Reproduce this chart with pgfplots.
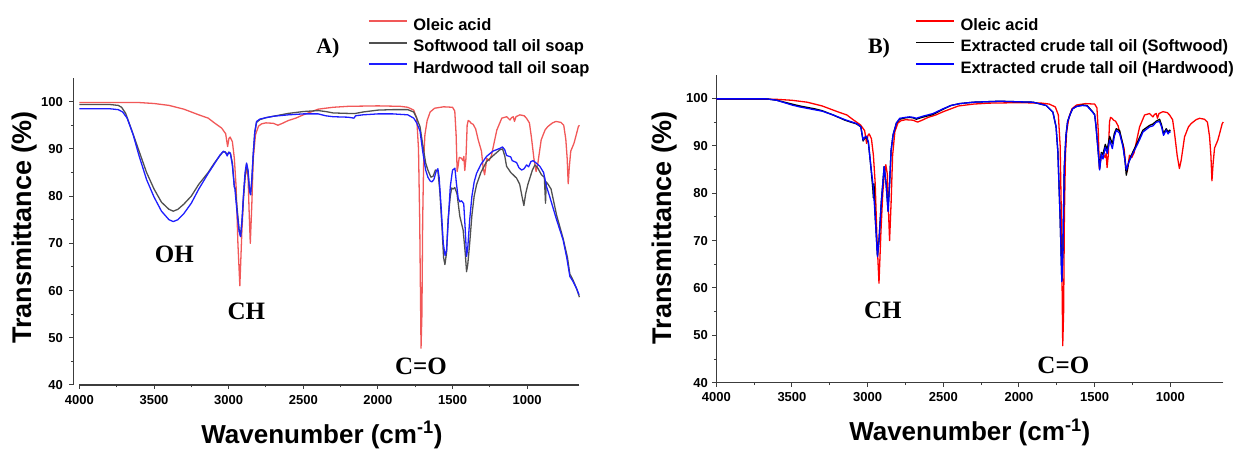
\documentclass[border=0pt]{standalone}
\usepackage{pgfplots}
\pgfplotsset{compat=1.18}
\usepackage{pgfplotstable}
\usepackage{fontspec}
\setmainfont{Liberation Sans}
\newfontfamily\timesb{Liberation Serif}

\definecolor{redA}{RGB}{240,70,70}
\definecolor{grayA}{RGB}{80,80,80}
\definecolor{blueA}{RGB}{30,30,255}
\definecolor{axgray}{RGB}{60,60,60}

\pgfplotstableread{
w T
4000 99.8
3800 99.8
3600 99.8
3500 99.6
3400 99.2
3300 98.4
3200 97.2
3137 96.5
3100 95.6
3047 94.4
3020 93.2
3007 90.5
2998 92.2
2990 92.5
2975 91.5
2962 88
2950 82
2938 70
2925 61.0
2912 72
2900 80
2890 84
2880 86
2870 84
2862 76
2855 70.0
2845 78
2835 88
2820 93
2800 94.8
2779 95.3
2750 95.5
2700 95.4
2670 95.0
2640 95.4
2600 96
2550 96.5
2500 97.2
2450 97.8
2400 98.4
2300 98.8
2200 99
2000 99.1
1850 99
1800 98.8
1760 98.2
1740 96.5
1728 90
1720 75
1711 47.8
1705 55
1700 75
1693 88
1685 93
1670 96
1650 97.8
1620 98.6
1560 98.9
1500 98.8
1485 98
1476 93
1469 85.2
1462 86.5
1455 88.2
1440 88
1430 87.5
1424 88.4
1418 85.4
1410 88
1402 95
1395 96
1385 95.8
1375 95.4
1362 95.2
1345 94.2
1328 91.9
1306 89.5
1295 86
1285 84.5
1270 88
1255 87.5
1240 88.5
1220 91.5
1203 94
1170 96.5
1137 96.8
1115 96.1
1105 96.6
1093 96.8
1085 95.8
1075 96.8
1049 97.2
1020 97
1005 96.5
985 95.5
972 92.6
955 88
940 85.2
928 87
906 91.9
880 94
862 94.7
830 95.5
807 95.8
774 95.6
755 95
741 92
732 88
725 82.6
718 86
708 89.5
686 91.2
675 92.5
657 94.7
650 95
}\oleic

\pgfplotstableread{
w T
4000 99.4
3800 99.4
3740 99.2
3717 98.8
3690 97.5
3650 94
3600 89.5
3550 85
3500 81.5
3450 78.7
3400 77.2
3371 76.8
3340 77.2
3300 78.3
3250 80
3200 82.5
3137 85
3100 86.8
3060 88.5
3040 89.3
3025 89.4
3010 88.8
2998 89.3
2988 89
2975 87
2962 82
2955 81.5
2945 78
2930 73
2920 71.5
2910 75
2900 80
2890 84
2880 86.8
2870 85
2862 82
2853 80.3
2845 83
2835 89
2825 93.5
2813 95.6
2790 96.2
2750 96.6
2700 96.9
2600 97.5
2500 97.9
2400 98.1
2350 97.9
2300 97.6
2200 97.5
2150 97.5
2100 97.8
2000 98.2
1900 98.3
1800 98.3
1760 97.8
1740 96.5
1718 94.7
1700 91
1680 87
1665 85.5
1645 84
1630 84.2
1615 85.5
1598 85.3
1585 81
1570 73
1560 67
1551 65.5
1540 68
1530 75
1515 80
1506 81.7
1495 81.5
1485 81.8
1470 80.5
1451 75.7
1429 72.8
1415 68
1406 64
1398 65.5
1385 70
1370 76
1355 80
1339 82.4
1310 85
1272 87.3
1230 88.5
1183 89.8
1165 90
1150 88.5
1138 86.3
1110 85
1071 83.8
1050 82.5
1035 80
1022 78
1010 80.5
995 82.5
982 83.8
965 85.5
948 86.6
930 86
904 84.5
885 84
877 78.5
872 83
860 82.5
840 81.5
803 76
759 71
730 67
714 63.5
700 62.7
690 62
670 60.5
650 58.6
}\softsoap

\pgfplotstableread{
w T
4000 98.5
3800 98.5
3740 98.3
3710 97.8
3680 96.5
3640 93
3600 88.5
3550 83.5
3500 79.8
3450 76.8
3400 75
3371 74.6
3340 75
3300 76.3
3250 78.5
3200 81.5
3137 84.8
3100 86.6
3060 88.6
3035 89.5
3020 89.2
3010 88.5
2998 89.3
2988 89
2975 86.5
2962 82
2958 81.5
2945 77
2930 72.5
2920 71.4
2910 75
2900 80.5
2890 85
2880 87
2870 85.5
2860 81
2853 80.3
2845 83.5
2835 89
2825 93.5
2813 95.8
2790 96.3
2750 96.6
2700 96.9
2600 97.2
2500 97.4
2400 97.4
2350 97
2300 96.8
2200 96.7
2160 96.5
2150 97.0
2100 97.2
2000 97.4
1900 97.4
1800 97.2
1760 96.5
1740 95.5
1718 93.8
1700 89.5
1680 85.5
1665 84
1650 83.2
1638 83
1625 83.5
1610 85.2
1598 85.8
1590 84
1575 77
1562 70
1550 67.4
1540 68.5
1530 74
1515 82
1500 85.5
1484 85.9
1475 83
1462 79.5
1451 78.8
1440 79
1425 78.4
1415 73
1406 67.2
1398 69
1385 75
1370 80
1355 83
1339 84.8
1310 86.7
1272 88.4
1230 89.5
1183 90.1
1165 90.4
1150 89.8
1138 88.6
1110 88.3
1100 87.5
1071 87.1
1055 86
1037 85.5
1020 85.8
1004 86.6
990 86.2
975 87.3
960 87.5
940 87
915 86.3
890 85
870 82
850 80
803 75
759 70.7
735 67
714 63
700 62.3
692 61.9
670 60.5
652 59.1
}\hardsoap

\pgfplotstableread{
w T
4000 99.9
3800 99.9
3667 99.9
3600 99.6
3550 99.1
3500 98.6
3448 98.2
3350 97.6
3300 97.3
3228 96.5
3150 95.5
3073 94.7
3045 94
3030 91.2
3020 91.8
3007 92
2995 90.8
2980 86
2964 81.7
2950 75
2935 66.6
2925 70
2910 78
2891 85.6
2878 82
2865 76.1
2855 82
2845 89
2832 92.3
2810 94.8
2788 95.8
2750 96
2722 96.1
2700 96
2678 95.8
2640 96.2
2568 96.8
2502 97.8
2450 98.5
2392 98.9
2300 99.2
2128 99.4
1908 99.2
1820 98.5
1776 97.1
1755 94
1743 88.7
1728 74.6
1717 61.3
1710 68
1701 85.2
1690 92
1679 95.1
1660 96.8
1646 97.8
1620 98.3
1580 98.5
1550 98.4
1514 97.1
1500 96.5
1492 94.3
1480 90
1467 84.9
1456 88.3
1445 87.2
1430 89.7
1417 88.4
1401 91.2
1383 89.4
1370 92
1357 93.3
1335 92.6
1313 89.8
1300 87
1291 84.9
1275 86.5
1258 87.7
1225 89.8
1200 91.5
1181 92.9
1137 94
1115 94.2
1093 95
1071 95.1
1058 94
1045 92.2
1027 93.3
1015 92.5
1005 93
1000 92.8
}\hardcto

\pgfplotstableread{
w T
4000 99.9
3800 99.9
3667 99.9
3600 99.6
3550 99.2
3500 98.8
3448 98.4
3350 97.8
3300 97.4
3228 96.5
3150 95.4
3073 94.6
3045 94
3030 91.0
3020 91.6
3007 91.8
2995 90.6
2980 86
2966 81
2962 79
2958 82
2950 75
2935 66.8
2925 70
2910 78
2891 85.6
2878 82
2865 76.3
2855 82
2845 89
2832 92.3
2810 94.8
2788 95.6
2750 95.9
2722 96.0
2700 95.9
2678 95.6
2640 96.0
2568 96.6
2502 97.7
2450 98.5
2392 98.9
2300 99.2
2128 99.4
1908 99.2
1820 98.5
1776 97.1
1755 94
1743 88.7
1728 74.6
1717 61.5
1710 68
1701 85.2
1690 92
1679 95.1
1660 96.8
1646 97.8
1620 98.3
1580 98.6
1550 98.5
1514 97.2
1500 96.6
1492 94.5
1480 90
1467 85.2
1456 88.6
1445 88.2
1430 90.3
1417 89.2
1401 92
1383 90.4
1370 92.6
1357 93.6
1335 93.2
1313 90.2
1300 87
1291 83.8
1275 86.5
1258 88
1225 90.2
1200 92
1181 93.3
1137 94.3
1115 94.6
1093 95.2
1071 95.6
1058 94.4
1045 92.6
1027 93.6
1015 92.9
1005 93.3
1000 93.1
}\softcto

\pgfplotsset{
 irstyle/.style={
  scale only axis,
  x dir=reverse,
  xmin=650, xmax=4000, ymin=40, ymax=105,
  axis x line*=bottom, axis y line*=left,
  xtick={1000,1500,...,4000}, ytick={40,50,...,100},
  minor x tick num=1, minor y tick num=1,
  tick align=outside,
  major tick length=4pt, minor tick length=2.5pt,
  axis line style={axgray, line width=1.1pt},
  tick style={axgray, line width=1pt},
  tick label style={font=\bfseries\fontsize{13}{15}\selectfont, text=black},
  xticklabel style={yshift=-2.5pt},
  /pgf/number format/assume math mode=true,
  /pgf/number format/1000 sep={},
  clip=false,
  xlabel={Wavenumber (cm\textsuperscript{-1})},
  ylabel={Transmittance (\%)},
  label style={font=\bfseries\fontsize{26}{30}\selectfont},
  ylabel style={font=\bfseries\fontsize{27}{30}\selectfont},
  legend style={draw=none, fill=none, font=\bfseries\fontsize{16.5}{18}\selectfont,
    inner sep=0pt, row sep=4pt, nodes={text height=12pt, text depth=3.5pt, inner sep=1pt},
    anchor=north west,
    /tikz/every odd column/.append style={column sep=4.5pt}},
  legend cell align=left,
  legend image code/.code={\draw[#1, line width=1.8pt] (0pt,5pt) -- (38pt,5pt);},
  every axis plot/.append style={line width=1.3pt, line join=round},
 }
}

\begin{document}
\begin{tikzpicture}
\useasboundingbox (0,0) rectangle (1237pt,449pt);
% Panel A
\begin{axis}[irstyle,
  at={(79.4pt,64pt)}, anchor=south west, width=500pt, height=307pt,
  xlabel style={at={(0.485,-0.189)}, anchor=base},
  ylabel style={at={(-0.1096,0.513)}, anchor=center},
  legend style={at={(0.577,1.198)}},
  y axis line style={xshift=-6pt},
  every y tick/.append style={xshift=-6pt},
  yticklabel style={xshift=-9pt},
]
\addplot[redA, opacity=0.9] table[x=w,y=T] {\oleic};
\addlegendentry{Oleic acid}
\addplot[grayA] table[x=w,y=T] {\softsoap};
\addlegendentry{Softwood tall oil soap}
\addplot[blueA] table[x=w,y=T] {\hardsoap};
\addlegendentry{Hardwood tall oil soap}
\node[font=\timesb\bfseries\fontsize{22}{26}\selectfont, anchor=base] at (rel axis cs:0.497,1.081) {A)};
\node[font=\timesb\bfseries\fontsize{25}{30}\selectfont] at (axis cs:3364,67.7) {OH};
\node[font=\timesb\bfseries\fontsize{25}{30}\selectfont] at (axis cs:2881,55.6) {CH};
\node[font=\timesb\bfseries\fontsize{25}{30}\selectfont] at (axis cs:1711,43.9) {C=O};
\end{axis}
% Panel B
\begin{axis}[irstyle,
  at={(716.3pt,66.3pt)}, anchor=south west, width=507pt, height=308pt,
  xlabel style={at={(0.500,-0.189)}, anchor=base},
  ylabel style={at={(-0.103,0.502)}, anchor=center},
  legend style={at={(0.392,1.187)}},
  yticklabel style={xshift=-1pt},
]
\addplot[red] table[x=w,y=T] {\oleic};
\addlegendentry{Oleic acid}
\addplot[black] table[x=w,y=T] {\softcto};
\addlegendentry{Extracted crude tall oil (Softwood)}
\addplot[blue] table[x=w,y=T] {\hardcto};
\addlegendentry{Extracted crude tall oil (Hardwood)}
\node[font=\timesb\bfseries\fontsize{22}{26}\selectfont, anchor=base] at (rel axis cs:0.321,1.070) {B)};
\node[font=\timesb\bfseries\fontsize{25}{30}\selectfont] at (axis cs:2900,55.3) {CH};
\node[font=\timesb\bfseries\fontsize{25}{30}\selectfont] at (axis cs:1707,43.7) {C=O};
\end{axis}
\end{tikzpicture}
\end{document}
